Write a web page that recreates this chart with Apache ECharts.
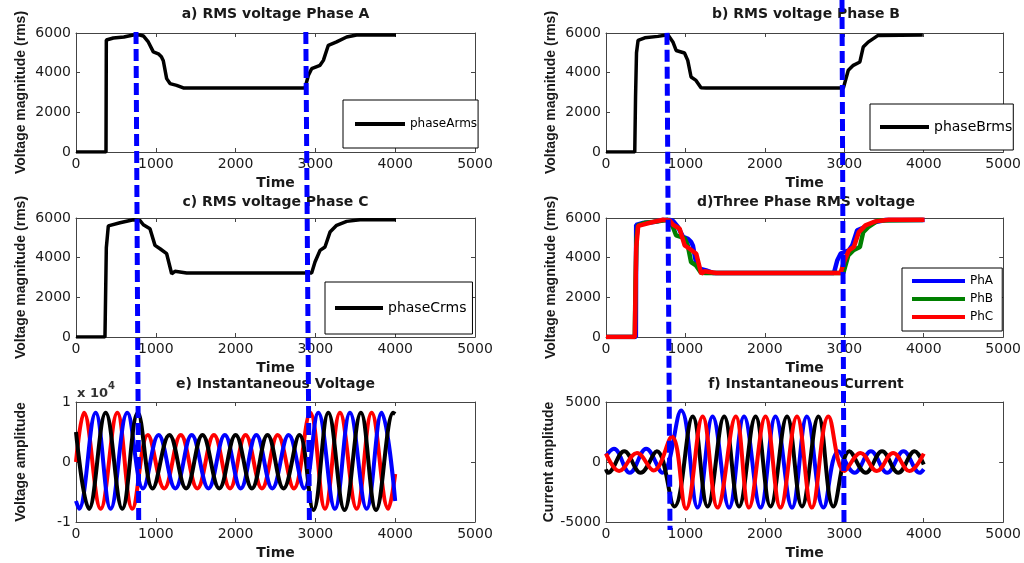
<!DOCTYPE html>
<html><head><meta charset="utf-8">
<script src="https://cdn.jsdelivr.net/npm/echarts@6/dist/echarts.min.js"></script>
<style>html,body{margin:0;padding:0;background:#fff}#c{width:1024px;height:563px}</style>
</head><body><div id="c"></div>
<script>
// ---------- data ----------
const xTicks = [0, 1000, 2000, 3000, 4000, 5000];
const rmsTicks = [0, 2000, 4000, 6000];
const voltTicks = [-10000, 0, 10000];
const currTicks = [-5000, 0, 5000];
const titles = ['a) RMS voltage Phase A', 'b) RMS voltage Phase B', 'c) RMS voltage Phase C',
  'd)Three Phase RMS voltage', 'e) Instantaneous Voltage', 'f) Instantaneous Current'];

const phaseArms = [[0,0],[376,0],[380,5650],[468,5750],[600,5800],[718,5900],[800,5900],[844,5850],[906,5550],[969,5050],[1032,4950],[1070,4800],[1094,4600],[1136,3700],[1178,3450],[1261,3360],[1345,3230],[2870,3230],[2911,3860],[2953,4200],[3058,4370],[3100,4620],[3162,5380],[3266,5550],[3392,5800],[3517,5900],[4010,5900]];
const phaseBrms = [[0,0],[362,0],[372,2800],[384,5000],[404,5630],[488,5760],[654,5830],[779,5910],[842,5550],[883,5120],[988,4990],[1029,4620],[1071,3780],[1133,3610],[1196,3240],[1260,3230],[2988,3230],[3050,4120],[3113,4370],[3196,4540],[3238,5290],[3300,5540],[3425,5880],[3988,5900]];
const phaseCrms = [[0,0],[363,0],[380,4500],[405,5600],[551,5760],[718,5910],[800,5880],[844,5660],[927,5460],[990,4620],[1053,4450],[1136,4200],[1199,3190],[1240,3310],[1387,3230],[2953,3230],[2995,3780],[3058,4370],[3120,4540],[3183,5290],[3266,5630],[3392,5830],[3559,5910],[4010,5910]];

// instantaneous voltage: extrema
const vRed = [[0,0],[100,8200],[309,-7800],[518,8200],[706,-7800],[900,4500],[1105,-4400],[1313,4500],[1520,-4400],[1728,4500],[1930,-4400],[2125,4500],[2330,-4400],[2528,4500],[2730,-4400],[2935,8200],[3120,-7800],[3308,8200],[3517,-7800],[3705,8200],[3913,-7800],[4000,-2000]];
const vBlue = [[0,-6500],[38,-7800],[246,8200],[434,-7800],[643,8200],[840,-4400],[1035,4500],[1245,-4400],[1450,4500],[1660,-4400],[1865,4500],[2065,-4400],[2260,4500],[2460,-4400],[2665,4500],[2860,-4400],[3036,8200],[3245,-7800],[3433,8200],[3642,-7800],[3830,8200],[4000,-6500]];
const vBlack = [[0,5000],[163,-7800],[372,8200],[580,-7800],[775,8200],[960,-4400],[1170,4500],[1380,-4400],[1585,4500],[1795,-4400],[2000,4500],[2205,-4400],[2400,4500],[2600,-4400],[2800,4500],[2975,-8000],[3162,8200],[3365,-8000],[3570,8200],[3760,-8000],[3976,8200],[4000,8000]];

// instantaneous current
const iBlue = [[0,500],[100,1100],[300,-900],[505,1100],[710,-900],[946,4300],[1154,-3800],[1342,3800],[1550,-3800],[1738,3800],[1946,-3800],[2133,3800],[2342,-3800],[2529,3800],[2738,-3800],[2925,900],[3130,-900],[3335,900],[3540,-900],[3745,900],[3950,-900],[4000,-600]];
const iBlack = [[0,-600],[25,-900],[230,900],[435,-900],[640,900],[862,-3700],[1092,3800],[1279,-3700],[1488,3800],[1675,-3700],[1883,3800],[2071,-3700],[2279,3800],[2467,-3700],[2675,3800],[2863,-3700],[3065,900],[3270,-900],[3475,900],[3680,-900],[3885,900],[4000,-200]];
const iRed = [[0,700],[165,-750],[390,750],[600,-700],[829,2100],[1008,-3900],[1217,3800],[1404,-3800],[1634,3800],[1800,-3800],[2008,3800],[2196,-3800],[2404,3800],[2592,-3800],[2800,3800],[3000,-750],[3205,750],[3410,-750],[3615,750],[3820,-750],[4000,700]];

// event markers (dashed lines), [time at top, time at bottom]
const markLeft = [[752, 786], [2880, 2925]];
const markRight = [[762, 800], [2950, 2975]];

// ---------- layout ----------
const grids = [
  {left:76, top:33, width:399, height:119},
  {left:606, top:33, width:400, height:119},
  {left:76, top:218, width:399, height:119},
  {left:606, top:218, width:400, height:119},
  {left:76, top:402, width:399, height:120},
  {left:606, top:402, width:400, height:120},
  {left:76, top:32, width:399, height:492},
  {left:606, top:0, width:400, height:530}
];
const axisColor = '#444';
const txt = '#1a1a1a';
const xAxes = [], yAxes = [];
const yDefs = [
  {ticks: rmsTicks, name: 'Voltage magnitude (rms)'},
  {ticks: rmsTicks, name: 'Voltage magnitude (rms)'},
  {ticks: rmsTicks, name: 'Voltage magnitude (rms)'},
  {ticks: rmsTicks, name: 'Voltage magnitude (rms)'},
  {ticks: voltTicks, name: 'Voltage amplitude', fmt: v => String(v / 10000)},
  {ticks: currTicks, name: 'Current amplitude'}
];
for (let g = 0; g < 6; g++) {
  const common = {type:'value', gridIndex:g, min:xTicks[0], max:xTicks[xTicks.length-1],
    interval:xTicks[1]-xTicks[0], splitLine:{show:false},
    axisLine:{show:true, onZero:false, lineStyle:{color:axisColor, width:1}},
    axisTick:{show:true, inside:true, length:4, lineStyle:{color:axisColor}}};
  xAxes.push(Object.assign({}, common, {position:'bottom',
    axisLabel:{show:true, color:txt, fontSize:14, fontFamily:'DejaVu Sans', margin:5, formatter: v => String(v)},
    name:'Time', nameLocation:'middle', nameGap:24,
    nameTextStyle:{fontSize:14, fontWeight:'bold', fontFamily:'DejaVu Sans', color:txt}}));
  xAxes.push(Object.assign({}, common, {position:'top', axisLabel:{show:false}}));
  const d = yDefs[g];
  const yc = {type:'value', gridIndex:g, min:d.ticks[0], max:d.ticks[d.ticks.length-1],
    interval:d.ticks[1]-d.ticks[0], splitLine:{show:false},
    axisLine:{show:true, onZero:false, lineStyle:{color:axisColor, width:1}},
    axisTick:{show:true, inside:true, length:4, lineStyle:{color:axisColor}}};
  yAxes.push(Object.assign({}, yc, {position:'left',
    axisLabel:{show:true, color:txt, fontSize:14, fontFamily:'DejaVu Sans', margin:5,
      formatter: d.fmt || (v => String(v))},
    name:d.name, nameLocation:'middle', nameGap:48, nameRotate:90,
    nameTextStyle:{fontSize:14, fontWeight:'bold', fontFamily:'Liberation Sans', color:txt}}));
  yAxes.push(Object.assign({}, yc, {position:'right', axisLabel:{show:false}}));
}
// overlay axes for the dashed event lines
for (let g = 6; g < 8; g++) {
  xAxes.push({type:'value', gridIndex:g, min:0, max:5000, show:false});
  yAxes.push({type:'value', gridIndex:g, min:0, max:1, show:false});
}

const series = [];
function line(name, data, g, color, width, smooth, z) {
  series.push({name, type:'line', data, xAxisIndex:2*g, yAxisIndex:2*g,
    showSymbol:false, symbol:'none', smooth: smooth || false, z: z || 2,
    lineStyle:{color, width}, itemStyle:{color}, silent:true});
}
line('phaseArms', phaseArms, 0, '#000', 3.5);
line('phaseBrms', phaseBrms, 1, '#000', 3.5);
line('phaseCrms', phaseCrms, 2, '#000', 3.5);
line('PhA', phaseArms, 3, '#0000ff', 4.5);
line('PhB', phaseBrms, 3, '#008000', 4.5);
line('PhC', phaseCrms, 3, '#ff0000', 4.5);
line('vC', vRed, 4, '#ff0000', 4, 0.4);
line('vA', vBlue, 4, '#0000ff', 4, 0.4);
line('vB', vBlack, 4, '#000000', 4, 0.4);
line('iA', iBlue, 5, '#0000ff', 4, 0.4);
line('iB', iBlack, 5, '#000000', 4, 0.4);
line('iC', iRed, 5, '#ff0000', 4, 0.4);

const dash = {color:'#0000ff', width:5, type:[12,5]};
markLeft.forEach((m, k) => {
  series.push({name:'markL'+k, type:'line', xAxisIndex:12, yAxisIndex:12,
    data:[[m[0], 1], [m[1], 0]], showSymbol:false, symbol:'none', z:20, silent:true, lineStyle:dash});
});
// right column: first line starts at the plot top, second at the top of the figure
series.push({name:'markR0', type:'line', xAxisIndex:13, yAxisIndex:13,
  data:[[markRight[0][0], 0.938], [markRight[0][1], 0]], showSymbol:false, symbol:'none', z:20, silent:true, lineStyle:dash});
series.push({name:'markR1', type:'line', xAxisIndex:13, yAxisIndex:13,
  data:[[markRight[1][0], 1], [markRight[1][1], 0.013]], showSymbol:false, symbol:'none', z:20, silent:true, lineStyle:dash});

const centers = [275.5, 806, 275.5, 806, 275.5, 806];
const tops = [7, 7, 195, 195, 377, 377];
const title = titles.map((t, i) => ({text:t, left:centers[i], top:tops[i], textAlign:'center', padding:0,
  textStyle:{fontSize:14, fontWeight:'bold', fontFamily:'DejaVu Sans', color:txt}}));
title.push({text:'{a|x 10}{b|4}', left:77, top:381, padding:0,
  textStyle:{rich:{a:{fontSize:13, fontFamily:'DejaVu Sans', color:'#333', padding:[6,0,0,0]},
    b:{fontSize:10, fontFamily:'DejaVu Sans', color:'#333', verticalAlign:'top'}}}});

const legBase = {show:true, icon:'rect', itemHeight:4, backgroundColor:'#fff',
  borderColor:'#000', borderWidth:1, borderRadius:0, selectedMode:false};
const legend = [
  Object.assign({}, legBase, {data:['phaseArms'], left:343, top:100, itemWidth:50,
    padding:[18,1,18,12], textStyle:{fontSize:12, fontFamily:'DejaVu Sans', color:'#000'}}),
  Object.assign({}, legBase, {data:['phaseBrms'], left:870, top:104, itemWidth:49,
    padding:[16,1,16,10], textStyle:{fontSize:14, fontFamily:'DejaVu Sans', color:'#000'}}),
  Object.assign({}, legBase, {data:['phaseCrms'], left:325, top:282, itemWidth:48,
    padding:[19,6,19,10], textStyle:{fontSize:14, fontFamily:'DejaVu Sans', color:'#000'}}),
  Object.assign({}, legBase, {data:['PhA','PhB','PhC'], orient:'vertical', left:902, top:268, itemWidth:53,
    itemGap:6, padding:[7,9,8,10], textStyle:{fontSize:12, fontFamily:'DejaVu Sans', color:'#000'}})
];

const chart = echarts.init(document.getElementById('c'), null, {renderer:'canvas'});
chart.setOption({animation:false, backgroundColor:'#fff', title, legend, grid:grids,
  xAxis:xAxes, yAxis:yAxes, series});
</script>
</body></html>
